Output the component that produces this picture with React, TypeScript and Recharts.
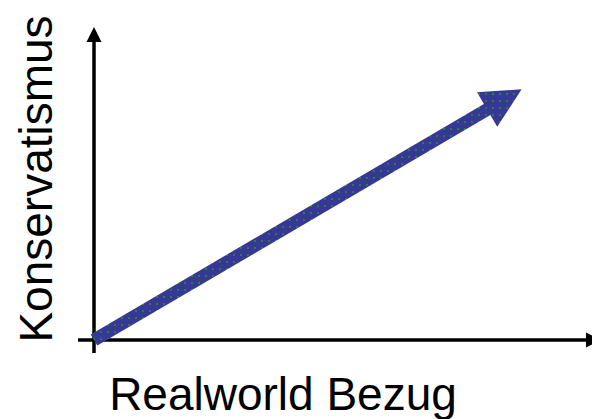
import { LineChart, Line, XAxis, YAxis, ReferenceLine } from "recharts";

// shaft of the big arrow: start at origin, end at the base of the head
const arrowX = [0, 9.85];
const arrowY = [0, 5.775];

const xLabel = "Realworld Bezug";
const yLabel = "Konservatismus";

const data = arrowX.map((x, i) => ({ x, y: arrowY[i] }));

const FONT = '"Liberation Sans", Arial, sans-serif';

interface LineShapeProps {
  x1?: number;
  y1?: number;
  x2?: number;
  y2?: number;
}

// vertical axis with arrow on top
const VerticalAxis = (props: LineShapeProps) => {
  const x = props.x1 ?? 0;
  const top = Math.min(props.y1 ?? 0, props.y2 ?? 0);
  const bottom = Math.max(props.y1 ?? 0, props.y2 ?? 0);
  return (
    <g>
      <line x1={x} y1={bottom} x2={x} y2={top + 14} stroke="#000" strokeWidth={3.5} />
      <polygon points={`${x},${top} ${x - 7.5},${top + 15} ${x + 7.5},${top + 15}`} fill="#000" />
    </g>
  );
};

// horizontal axis with arrow on the right (cut by the edge)
const HorizontalAxis = (props: LineShapeProps) => {
  const y = props.y1 ?? 0;
  const left = Math.min(props.x1 ?? 0, props.x2 ?? 0);
  const right = Math.max(props.x1 ?? 0, props.x2 ?? 0);
  return (
    <g>
      <line x1={left} y1={y} x2={right - 5} y2={y} stroke="#000" strokeWidth={3.5} />
      <polygon points={`${right + 9},${y} ${right - 6},${y - 7.5} ${right - 6},${y + 7.5}`} fill="#000" />
    </g>
  );
};

const ArrowHead = (props: any) => {
  const { cx, cy, index, points } = props;
  if (index !== 1 || !points) return <g key={`d-${index}`} />;
  const p0 = points[0];
  const dx = cx - p0.x;
  const dy = cy - p0.y;
  const len = Math.sqrt(dx * dx + dy * dy) || 1;
  const ux = dx / len;
  const uy = dy / len;
  const nx = -uy;
  const ny = ux;
  const headLen = 39;
  const half = 20;
  const tip = [cx + ux * headLen, cy + uy * headLen];
  const a = [cx + nx * half, cy + ny * half];
  const b = [cx - nx * half, cy - ny * half];
  return (
    <g key={`d-${index}`}>
      <defs>
        <pattern id="arrowDots" patternUnits="userSpaceOnUse" width={7} height={7}>
          <rect width={7} height={7} fill="#363896" />
          <rect x={2} y={2} width={2} height={2} fill="#2d7d3c" />
        </pattern>
      </defs>
      <polygon
        points={`${a[0] - ux},${a[1] - uy} ${tip[0]},${tip[1]} ${b[0] - ux},${b[1] - uy}`}
        fill="url(#arrowDots)"
      />
    </g>
  );
};

export default function App() {
  return (
    <div style={{ position: "absolute", left: 0, top: 0, background: "#fff" }}>
      <LineChart width={592} height={419} data={data} margin={{ top: 27, right: 0, bottom: 0, left: 0 }}>
        <XAxis
          dataKey="x"
          type="number"
          domain={[-0.4, 12.45]}
          allowDataOverflow
          axisLine={false}
          tickLine={false}
          tick={false}
          height={66}
          label={{
            content: ({ viewBox }: any) => (
              <text
                x={(viewBox?.x ?? 78) + 205}
                y={(viewBox?.y ?? 353) + 57}
                textAnchor="middle"
                fontFamily={FONT}
                fontSize={46}
                fill="#000"
              >
                {xLabel}
              </text>
            ),
          }}
        />
        <YAxis
          dataKey="y"
          type="number"
          domain={[-0.325, 7.825]}
          allowDataOverflow
          axisLine={false}
          tickLine={false}
          tick={false}
          width={78}
          label={{
            content: ({ viewBox }: any) => {
              const cx = 52;
              const cy = (viewBox?.y ?? 27) + 152;
              return (
                <text
                  x={cx}
                  y={cy}
                  transform={`rotate(-90, ${cx}, ${cy})`}
                  textAnchor="middle"
                  fontFamily={FONT}
                  fontSize={46}
                  fill="#000"
                >
                  {yLabel}
                </text>
              );
            },
          }}
        />
        <ReferenceLine x={0} shape={VerticalAxis} />
        <ReferenceLine y={0} shape={HorizontalAxis} />
        <Line
          dataKey="y"
          stroke="url(#arrowDots)"
          strokeWidth={13}
          strokeLinecap="butt"
          dot={<ArrowHead />}
          activeDot={false}
          isAnimationActive={false}
        />
      </LineChart>
    </div>
  );
}
